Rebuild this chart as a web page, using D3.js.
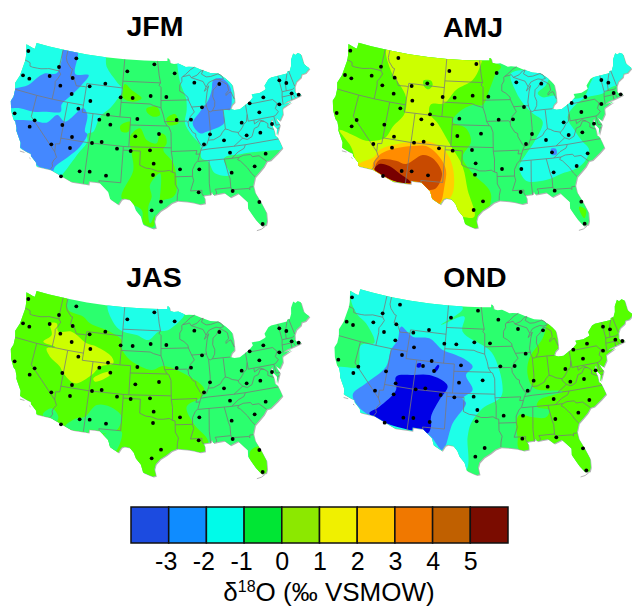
<!DOCTYPE html>
<html>
<head>
<meta charset="utf-8">
<script src="https://d3js.org/d3.v7.min.js"></script>
<style>
  body { margin: 0; background: #fff; }
  text { font-family: "Liberation Sans", Arial, sans-serif; fill: #000; }
</style>
</head>
<body>
<div id="my_dataviz"></div>
<script>
// lon/lat outline, lakes are filled so the north edge runs through Superior and Huron
var outline = [[-124.7,48.4],[-123.1,48.15],[-122.75,48.15],[-122.76,49],[-120,49],[-116,49],[-112,49],[-108,49],[-104,49],[-100,49],[-97,49],[-95.15,49],[-95.15,49.38],[-94.8,49.3],[-94.6,48.7],[-93.8,48.55],[-92.9,48.6],[-92,48.3],[-91.4,48.07],[-90.75,48.1],[-89.6,48],[-88.4,47.6],[-86.5,47],[-84.9,46.8],[-84.4,46.5],[-83.6,46],[-83,45.5],[-82.5,45],[-82.4,44],[-82.45,43],[-82.5,42.6],[-83.1,42.25],[-83.45,41.72],[-82.7,41.5],[-81.7,41.5],[-80.5,42],[-79.8,42.25],[-78.9,42.85],[-79.05,43.26],[-77.5,43.25],[-76.5,43.5],[-76.2,43.6],[-76.3,44.1],[-75.3,44.85],[-74.7,45],[-71.5,45.01],[-71.4,45.25],[-70.85,45.25],[-70.3,45.9],[-70,46.7],[-69.23,47.46],[-68.9,47.2],[-68.3,47.36],[-67.8,47.07],[-67.8,45.7],[-67.45,45.3],[-67,44.85],[-68,44.4],[-68.8,44.4],[-69.1,44],[-70.2,43.6],[-70.7,43.05],[-70.8,42.7],[-70.95,42.3],[-70.65,41.95],[-70.5,41.78],[-70,41.8],[-70,41.65],[-70.65,41.55],[-71.2,41.47],[-71.4,41.45],[-72.9,41.25],[-73.65,40.98],[-72,41.1],[-73.9,40.55],[-74,40.4],[-74.1,39.75],[-74.9,38.95],[-75.55,39.5],[-75.4,39.05],[-75.05,38.45],[-75.9,37.15],[-75.95,37.2],[-75.7,37.95],[-76.2,38.6],[-76.1,39.4],[-76.5,39.2],[-76.45,38.4],[-76.3,37.9],[-76.3,37],[-76,36.9],[-75.75,36.2],[-75.5,35.25],[-76.5,34.65],[-77.9,33.9],[-78.55,33.85],[-79.2,33.2],[-79.9,32.7],[-80.9,32],[-81.4,30.9],[-81.3,29.9],[-80.6,28.4],[-80.05,26.9],[-80.15,25.75],[-80.4,25.2],[-81.1,25.15],[-81.8,26.1],[-82.15,26.7],[-82.75,27.8],[-82.65,28.7],[-83.4,29.5],[-84,30.1],[-85.3,29.7],[-86.2,30.4],[-87.5,30.3],[-88,30.25],[-88.1,30.65],[-88.5,30.35],[-89.4,30.3],[-89.6,30.2],[-89.4,29.9],[-89.4,29.2],[-90.2,29.1],[-91.3,29.4],[-92.3,29.55],[-93.8,29.7],[-94.7,29.4],[-95.5,28.85],[-96.5,28.3],[-97.2,27.6],[-97.4,26.9],[-97.15,25.96],[-97.6,25.85],[-98.2,26.05],[-99.1,26.4],[-99.5,27.5],[-100.3,28.3],[-100.7,29.1],[-101.4,29.77],[-102.3,29.88],[-102.7,29.7],[-103.15,28.98],[-104.5,29.65],[-104.9,30.6],[-106.5,31.75],[-108.2,31.78],[-108.2,31.33],[-111.07,31.33],[-114.8,32.5],[-117.12,32.53],[-117.3,33],[-118.4,33.75],[-118.5,34.03],[-119.2,34.15],[-120.5,34.45],[-120.65,35.15],[-121.9,36.6],[-122,36.95],[-122.5,37.75],[-122.95,38],[-123.75,39],[-124.35,40.3],[-124.1,41],[-124.2,42],[-124.55,42.85],[-124.1,44],[-123.95,46.2],[-124.1,46.9]];

// state lines and the lake shores, drawn on top of the fill
var borders = [
  [[-124,46.25],[-123.4,46.2],[-122.9,46.1],[-122.75,45.65],[-122.2,45.6],[-121.2,45.65],[-120.5,45.7],[-119.3,45.93],[-119,46],[-116.92,46]],
  [[-117.04,49],[-117.04,46.42],[-116.92,46],[-116.46,45.6],[-116.85,44.9],[-117.2,44.45],[-117.03,43.8],[-117.03,42]],
  [[-124.2,42],[-120,42],[-117.03,42],[-114.04,42],[-111.05,42]],
  [[-120,42],[-120,39],[-114.63,35]],
  [[-114.04,42],[-114.04,36.2],[-114.75,36.1],[-114.63,35],[-114.15,34.3],[-114.5,33.9],[-114.7,33.4],[-114.5,33],[-114.8,32.5]],
  [[-114.04,37],[-109.05,37],[-103,37],[-102.04,37],[-94.62,37]],
  [[-109.05,41],[-109.05,31.33]],
  [[-111.05,45],[-111.05,41],[-104.05,41],[-104.05,49]],
  [[-111.05,45],[-104.05,45]],
  [[-116.05,49],[-116.05,48],[-115.7,47.45],[-114.7,46.7],[-114.35,46.65],[-114.5,45.55],[-113.9,45.65],[-113.45,45.05],[-113,44.45],[-111.5,44.55],[-111.05,44.5]],
  [[-104.05,45.94],[-96.56,45.94]],
  [[-104.05,43],[-98.5,43],[-97.9,42.8],[-96.45,42.5]],
  [[-104.05,41],[-102.05,41],[-102.05,37]],
  [[-102.05,40],[-95.3,40]],
  [[-103,37],[-103,32],[-106.6,32],[-106.5,31.75]],
  [[-103,36.5],[-100,36.5],[-100,34.56],[-99,34.2],[-98,34.1],[-97,33.8],[-96,33.8],[-95,33.9],[-94.48,33.64],[-94.04,33.55],[-94.04,32],[-93.55,31.2],[-93.75,30.4],[-93.8,29.7]],
  [[-94.48,33.64],[-94.43,35.4],[-94.62,36.5],[-94.62,39.1],[-95,39.9],[-95.3,40],[-95.77,40.6],[-95.85,41],[-96,41.5],[-96.45,42.5]],
  [[-94.62,36.5],[-90.15,36.5],[-90.37,36],[-89.7,36]],
  [[-94.04,33.02],[-91.15,33]],
  [[-89.15,37],[-89.5,36.5],[-89.7,36],[-90.1,35.1],[-90.6,34.7],[-91.1,33.9],[-91.15,33],[-91,32.4],[-91.6,31],[-89.75,31],[-89.8,30.6],[-89.55,30.2]],
  [[-89.15,37],[-89.5,37.3],[-90.2,38.4],[-90.2,38.8],[-90.7,39],[-91.4,39.9],[-91.45,40.4],[-91,41.2],[-90.2,41.8],[-90.65,42.5],[-91.2,43.5],[-91.25,43.85],[-92,44.4],[-92.8,44.75],[-92.75,45.6],[-92.3,46.1],[-92.3,46.65],[-92.1,46.75]],
  [[-96.45,43.5],[-91.2,43.5]],
  [[-95.77,40.6],[-91.7,40.6],[-91.45,40.4]],
  [[-97.2,49],[-97,47.9],[-96.85,47],[-96.56,45.94],[-96.85,45.6],[-96.45,45.3],[-96.45,42.5]],
  [[-90.65,42.5],[-87.8,42.5]],
  [[-87.53,41.72],[-87.53,39.35],[-87.6,38.7],[-88.05,37.8]],
  [[-89.15,37],[-88.45,37.1],[-88.05,37.8],[-87.1,37.8],[-86.5,38],[-85.8,38.25],[-85.4,38.7],[-84.85,39.1],[-84.3,38.95],[-83.65,38.63],[-82.6,38.4],[-82.2,38.6],[-81.75,39],[-81.4,39.4],[-80.85,39.7],[-80.52,40.64]],
  [[-84.8,39.1],[-84.8,41.7]],
  [[-86.82,41.76],[-84.8,41.76],[-83.45,41.72]],
  [[-80.52,42],[-80.52,39.72],[-75.79,39.72]],
  [[-79.76,42.25],[-79.76,42],[-75.35,42],[-74.7,41.36]],
  [[-79.48,39.72],[-79.48,39.2],[-78.4,39.6],[-77.72,39.32],[-78.35,39.4],[-78.9,38.75],[-79.65,38.6],[-80.3,37.55],[-81.2,37.25],[-81.97,37.54]],
  [[-82.6,38.4],[-82.6,38.15],[-81.97,37.54],[-83.67,36.6]],
  [[-75.85,36.55],[-81.65,36.59],[-83.67,36.6],[-88.07,36.6],[-89.5,36.5]],
  [[-90.1,35],[-84.32,34.99],[-83.1,35.75],[-82,36.12],[-81.67,36.59]],
  [[-84.32,35],[-83.1,35],[-82.3,35.2],[-81.05,35.15],[-80.8,34.82],[-79.67,34.8],[-78.55,33.85]],
  [[-83.1,35],[-83.35,34.7],[-82.9,34.45],[-81.9,33.4],[-81.4,32.6],[-80.9,32.03]],
  [[-85.6,35],[-85.18,32.85],[-85,32.3],[-85.05,31],[-84.87,30.71],[-82.2,30.57],[-82.05,30.36],[-82,30.75],[-81.45,30.72]],
  [[-85,31],[-87.6,31],[-87.4,30.6],[-87.5,30.3]],
  [[-88.2,35],[-88.47,31.9],[-88.4,30.25]],
  [[-75.79,39.72],[-75.7,38.46],[-75.05,38.45]],
  [[-75.25,38.03],[-75.65,37.95]],
  [[-77.72,39.32],[-77.1,38.9],[-77.25,38.4],[-76.3,37.95]],
  [[-75.79,39.72],[-75.4,39.8],[-74.8,40.2],[-75.2,40.7],[-74.7,41.36],[-73.9,41]],
  [[-73.65,41],[-73.5,42.05],[-73.27,42.75],[-73.35,45]],
  [[-73.5,42.05],[-71.8,42.02],[-71.38,42.02],[-71.13,41.5]],
  [[-71.8,42.02],[-71.85,41.32]],
  [[-73.27,42.75],[-71.3,42.7],[-70.85,42.87]],
  [[-72.46,42.73],[-72.3,43.7],[-72.05,44.1],[-71.5,45.01]],
  [[-70.7,43.07],[-71.05,45.3]],
  [[-90.4,46.55],[-88.1,45.9],[-87.6,45.1]],
  [[-92.1,46.75],[-91.2,46.85],[-90.75,46.95],[-90.4,46.55],[-89.2,46.85],[-88.45,47.35],[-87.9,47.47],[-88.3,46.95],[-87.4,46.5],[-86.5,46.5],[-85,46.75],[-84.4,46.5],[-84,46],[-84.7,45.9],[-85.5,46.05],[-86.3,45.9],[-87,45.7],[-87.6,45.1],[-88,44.55],[-87.4,44.9],[-87.1,45.25],[-87.5,44.4],[-87.9,43],[-87.8,42.3],[-87.55,41.75],[-87.2,41.65],[-86.8,41.78],[-86.3,42.4],[-86.2,43],[-86.5,43.7],[-86.3,44.6],[-85.6,45],[-85,45.6],[-84.75,45.78],[-84.1,45.5],[-83.4,45.1],[-83.3,44.3],[-83.9,43.9],[-83.9,43.65],[-83.3,44],[-82.9,44.05],[-82.45,43]],
  [[-89.6,48],[-90.5,47.65],[-91.5,47.05],[-92.1,46.75]]
];

// small bits that sit off the coast, grey only
var islands = [
  [[-120.4,34.02],[-119.6,34]],
  [[-118.6,33.45],[-118.35,33.35]],
  [[-81.9,24.6],[-81.2,24.7],[-80.6,25]],
  [[-122.55,47.9],[-122.45,47.4],[-122.35,47.9],[-122.5,48.3]]
];

// stations (crop units, 3x)
var stations = [[85,123],[69,196],[88,206],[149,198],[177,171],[229,145],[181,227],[218,204],[215,252],[269,229],[316,221],[382,184],[463,163],[524,190],[583,218],[658,222],[271,273],[362,262],[398,264],[452,258],[499,261],[235,296],[324,314],[298,329],[331,344],[412,327],[530,330],[573,329],[606,292],[749,280],[790,262],[838,211],[859,219],[875,250],[896,254],[838,283],[778,307],[44,310],[104,331],[89,350],[187,345],[216,381],[154,403],[210,414],[276,399],[305,396],[351,416],[392,423],[450,421],[406,379],[477,372],[630,373],[612,403],[672,391],[725,338],[740,376],[781,368],[816,342],[690,428],[797,431],[461,461],[459,495],[540,478],[598,478],[695,488],[764,469],[239,484],[269,485],[318,497],[183,499],[596,547],[698,543],[483,575],[455,601],[778,576],[788,642]];

// contour regions per season, painted in order: [colour key, vertices]
var jfmRegions = [
  ["cyan", [[0,90],[310,120],[320,170],[350,215],[368,240],[350,270],[330,295],[300,320],[280,365],[262,372],[262,395],[235,430],[190,490],[170,510],[100,490],[0,400]]],
  ["blue", [[190,120],[232,125],[226,192],[266,195],[245,225],[215,255],[185,283],[182,305],[140,305],[100,305],[60,295],[20,290],[20,240],[45,235],[85,225],[110,205],[135,190],[170,190],[185,150]]],
  ["blue", [[20,338],[100,332],[140,338],[172,315],[195,335],[250,295],[262,315],[255,365],[262,372],[240,410],[205,440],[165,470],[155,490],[110,465],[70,420],[20,380]]],
  ["cyan", [[530,140],[540,215],[558,265],[560,300],[555,340],[575,375],[600,405],[605,445],[625,455],[645,490],[690,495],[672,445],[725,432],[830,420],[960,420],[960,100],[530,100]]],
  ["blue", [[640,210],[665,205],[690,230],[695,280],[690,300],[670,300],[672,340],[620,365],[600,370],[578,340],[600,305],[625,270],[635,240]]],
  ["lime", [[375,222],[395,240],[425,265],[400,275],[370,265],[368,245]]],
  ["lime", [[440,295],[470,290],[480,315],[460,320],[440,305]]],
  ["lime", [[500,325],[525,312],[535,340],[505,345]]],
  ["lime", [[370,340],[390,335],[385,365],[365,365],[360,350]]],
  ["lime", [[390,380],[420,355],[440,390],[470,400],[480,370],[495,375],[500,400],[490,420],[520,460],[530,540],[520,560],[470,580],[460,650],[430,640],[425,600],[365,565],[400,480],[395,430]]],
  ["green", [[450,525],[480,490],[480,560],[470,600],[450,640],[445,590],[455,560]]]
];
var amjRegions = [
  ["lime", [[530,150],[555,170],[540,190],[520,240],[500,285],[470,285],[430,305],[410,335],[450,355],[465,395],[440,440],[470,490],[520,540],[525,570],[480,660],[0,660],[0,90],[530,90]]],
  ["yellowgreen", [[215,110],[495,140],[490,175],[470,210],[420,240],[385,280],[345,283],[340,310],[365,340],[400,400],[440,470],[455,540],[475,620],[440,620],[300,560],[130,470],[105,410],[70,360],[110,375],[150,392],[205,385],[232,348],[265,312],[270,262],[252,225],[228,190]]],
  ["lime", [[322,212],[345,212],[350,225],[338,238],[325,230]]],
  ["gold", [[130,460],[175,440],[190,420],[230,405],[290,395],[340,395],[385,420],[410,470],[410,550],[385,580],[370,575],[300,530],[180,500],[120,470]]],
  ["orange", [[170,470],[190,435],[240,415],[290,408],[335,410],[370,440],[390,480],[385,530],[375,575],[365,585],[300,530],[200,500]]],
  ["brown", [[178,478],[190,450],[240,452],[270,462],[320,435],[350,445],[378,490],[360,535],[340,540],[280,520],[215,500]]],
  ["maroon", [[175,478],[190,462],[220,468],[250,490],[285,518],[250,518],[215,505],[190,490]]],
  ["cyan", [[585,190],[700,190],[690,225],[665,250],[680,262],[720,258],[730,285],[760,270],[805,258],[825,215],[885,125],[960,120],[960,195],[880,235],[862,250],[800,268],[755,320],[775,360],[800,395],[818,415],[815,440],[790,470],[740,490],[690,510],[630,512],[610,470],[625,440],[655,395],[680,335],[650,310],[625,285],[600,245]]],
  ["blue", [[705,417],[720,417],[722,432],[708,435]]],
  ["lime", [[790,590],[810,600],[805,625],[790,600]]]
];
var jasRegions = [
  ["lime", [[0,50],[195,100],[205,150],[250,170],[270,190],[330,215],[365,240],[365,265],[390,300],[455,330],[490,318],[560,345],[612,385],[605,410],[560,440],[580,490],[625,545],[610,590],[400,700],[0,700]]],
  ["lime", [[750,575],[785,560],[820,650],[770,650]]],
  ["green", [[195,500],[230,475],[255,470],[290,435],[330,440],[365,470],[350,510],[320,520],[220,520]]],
  ["green", [[310,525],[365,515],[345,575],[320,560]]],
  ["green", [[130,460],[155,445],[175,470],[165,490],[130,470]]],
  ["cyan", [[325,130],[555,155],[505,210],[475,215],[445,240],[410,225],[370,215],[345,195]]],
  ["yellowgreen", [[150,190],[170,190],[175,215],[215,215],[260,250],[290,260],[335,290],[340,310],[300,320],[275,345],[225,370],[190,340],[180,320],[150,290],[140,265],[165,260],[130,245],[155,225]]],
  ["yellowgreen", [[280,355],[330,335],[330,345],[285,365]]]
];
var ondRegions = [
  ["lime", [[700,180],[680,235],[640,295],[635,345],[655,385],[740,395],[670,420],[663,440],[700,450],[690,472],[650,472],[610,465],[600,500],[605,530],[610,570],[830,700],[1000,700],[1000,100],[800,100]]],
  ["cyan", [[110,85],[430,130],[440,148],[375,195],[445,170],[440,215],[510,262],[532,285],[558,365],[555,410],[500,445],[465,490],[455,530],[445,640],[200,640],[40,430],[60,325],[125,320],[135,255],[175,248],[150,190],[125,165],[105,120]]],
  ["blue", [[255,200],[290,230],[340,235],[380,270],[420,285],[450,300],[470,320],[450,345],[470,390],[440,415],[450,430],[410,490],[380,570],[345,530],[300,500],[150,460],[110,405],[150,370],[210,320],[225,270],[245,240]]],
  ["deep", [[240,350],[290,345],[340,345],[385,365],[395,380],[370,420],[345,470],[345,500],[335,520],[280,510],[210,490],[160,460],[190,440],[240,390]]],
  ["deep", [[303,312],[315,310],[313,322],[303,322]]],
  ["deep", [[352,335],[366,314],[370,318],[358,337]]]
];

var seasons = ["JFM", "AMJ", "JAS", "OND"];
var seasonRegions = [jfmRegions, amjRegions, jasRegions, ondRegions];

var mapColors = {deep:"#0000e6", blue:"#4488ff", cyan:"#1effe8", green:"#2bff6e", lime:"#55ff00",
  yellowgreen:"#ccff00", gold:"#ffd000", orange:"#ff8c00", brown:"#c84a00", maroon:"#780000"};

// colour bar
var legendColors = ["#1c4be0","#0f8cff","#00fbe9","#00e634","#8ce800","#f0f000","#ffc800","#f07800","#c06000","#7a0c00"];
var legendTicks = [-3,-2,-1,0,1,2,3,4,5];

var width = 632, height = 606;

var svg = d3.select("#my_dataviz").append("svg")
    .attr("width", width).attr("height", height).style("display", "block");

// where each map sits: crop origin, map shift and title
var panels = [
  {ox:0,   oy:10,  tx:0,     ty:0,     titleX:155, titleY:36},
  {ox:316, oy:10,  tx:322,   ty:-0.3,  titleX:473, titleY:37},
  {ox:0,   oy:260, tx:0,     ty:248,   titleX:154, titleY:287},
  {ox:316, oy:260, tx:323.7, ty:246.3, titleX:475, titleY:287}
];

var albers = d3.geoAlbers().scale(414).translate([160, 135.5]);
var stationDx = [0, 18, 0, 23], stationDy = [0, -1, -6, -11];

panels.forEach(function(p, i) {
  // crop units are 3x the page pixels
  var x = d3.scaleLinear().domain([0, 948]).range([p.ox, p.ox + 316]);
  var y = d3.scaleLinear().domain([0, 690]).range([p.oy, p.oy + 230]);

  var px = function(d){ return albers(d)[0] + p.tx; };
  var py = function(d){ return albers(d)[1] + p.ty; };
  var ptLine = d3.line().x(px).y(py);
  var closed = d3.line().x(px).y(py).curve(d3.curveLinearClosed);
  var contour = d3.line().x(function(d){ return x(d[0]); }).y(function(d){ return y(d[1]); })
      .curve(d3.curveCatmullRomClosed.alpha(0.5));

  var g = svg.append("g");
  var clipId = "us-" + i;
  g.append("clipPath").attr("id", clipId).append("path").attr("d", closed(outline));

  // grey edge that shows on the south and east coasts
  g.append("path").attr("d", closed(outline))
      .attr("transform", "translate(1,1)").attr("fill", "#b4b4b4");
  g.append("g").selectAll("path").data(islands).enter().append("path")
      .attr("d", ptLine).attr("fill", "none").attr("stroke", "#b4b4b4").attr("stroke-width", 1);

  g.append("path").attr("d", closed(outline)).attr("fill", mapColors.green);

  g.append("g").attr("clip-path", "url(#" + clipId + ")")
    .selectAll("path").data(seasonRegions[i]).enter().append("path")
      .attr("d", function(d){ return contour(d[1]); })
      .attr("fill", function(d){ return mapColors[d[0]]; });

  g.append("g").selectAll("path").data(borders).enter().append("path")
      .attr("d", ptLine).attr("fill", "none").attr("stroke", "#7a7a7a").attr("stroke-width", 0.8);

  g.append("g").selectAll("circle").data(stations).enter().append("circle")
      .attr("cx", function(d){ return x(d[0] + stationDx[i]); })
      .attr("cy", function(d){ return y(d[1] + stationDy[i]); })
      .attr("r", 1.9).attr("fill", "#000");

  svg.append("text").attr("x", p.titleX).attr("y", p.titleY)
      .attr("text-anchor", "middle").style("font-size", "28.5px").style("font-weight", "bold")
      .text(seasons[i]);
});

// colour bar with labels on the cell edges
var legendX = d3.scaleLinear().domain([-4, 6]).range([131, 508]);
var cellEdges = d3.range(-4, 6);

svg.append("g").selectAll("rect").data(cellEdges).enter().append("rect")
    .attr("x", function(d){ return legendX(d); })
    .attr("y", 507).attr("height", 36)
    .attr("width", legendX(1) - legendX(0))
    .attr("fill", function(d, i){ return legendColors[i]; })
    .attr("stroke", "#111").attr("stroke-width", 1.5);

var axis = d3.axisBottom(legendX).tickValues(legendTicks).tickSize(0).tickFormat(function(d){ return d; });
var axisG = svg.append("g").attr("transform", "translate(0,543)").call(axis);
axisG.select(".domain").remove();
axisG.selectAll("text")
    .attr("y", 27).attr("dy", 0)
    .attr("dx", function(d){ return d < 0 ? -3 : 0; })
    .style("font-size", "25px").style("font-family", "'Liberation Sans', Arial, sans-serif").attr("fill", "#000");

var label = svg.append("text").attr("x", 329).attr("y", 601).attr("text-anchor", "middle").style("font-size", "26px");
label.append("tspan").text("δ");
label.append("tspan").text("18").attr("dy", -9).style("font-size", "16px");
label.append("tspan").text("O (‰ VSMOW)").attr("dy", 9);
</script>
</body>
</html>
